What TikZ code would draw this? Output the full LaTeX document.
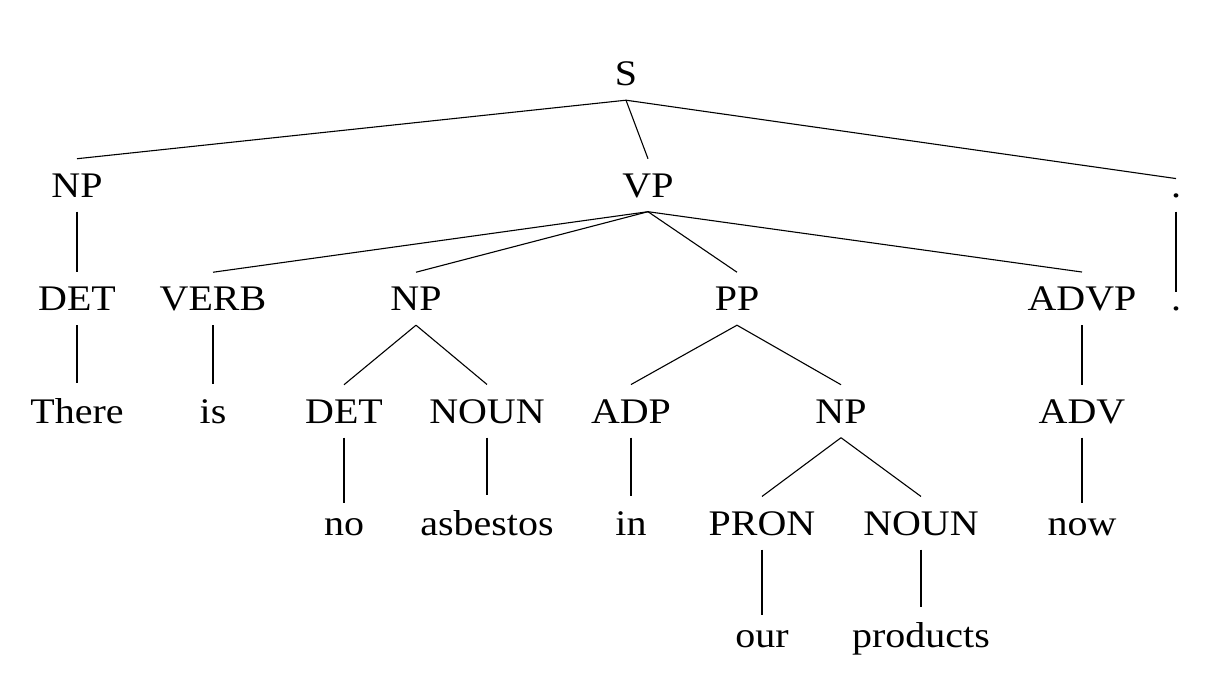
\documentclass[tikz,border=0pt]{standalone}
\usepackage{fontspec}
\setmainfont[FakeStretch=1.11]{Liberation Serif}
\begin{document}
\begin{tikzpicture}[x=1pt,y=-1pt,
  lbl/.style={anchor=base,inner xsep=2pt,inner ysep=14.5pt,text depth=0pt,font=\fontsize{36}{40}\selectfont},
  edge/.style={line width=1.1pt}]
\useasboundingbox (0,0) rectangle (1226,682);
% row 0
\node[lbl] (S) at (626,85.5) {S};
% row 1
\node[lbl] (NP1) at (77,197) {NP};
\node[lbl] (VP) at (648,197) {VP};
\node[lbl] (P1) at (1176,197) {.};
% row 2
\node[lbl] (DET1) at (77,310.5) {DET};
\node[lbl] (VERB) at (213,310.5) {VERB};
\node[lbl] (NP2) at (416,310.5) {NP};
\node[lbl] (PP) at (737,310.5) {PP};
\node[lbl] (ADVP) at (1082,310.5) {ADVP};
\node[lbl] (P2) at (1176,310.5) {.};
% row 3
\node[lbl] (There) at (77,423) {There};
\node[lbl] (is) at (213,423) {is};
\node[lbl] (DET2) at (344,423) {DET};
\node[lbl] (NOUN1) at (487,423) {NOUN};
\node[lbl] (ADP) at (631,423) {ADP};
\node[lbl] (NP3) at (841,423) {NP};
\node[lbl] (ADV) at (1082,423) {ADV};
% row 4
\node[lbl] (no) at (344,535) {no};
\node[lbl] (asbestos) at (487,535) {asbestos};
\node[lbl] (in) at (631,535) {in};
\node[lbl] (PRON) at (762,535) {PRON};
\node[lbl] (NOUN2) at (921,535) {NOUN};
\node[lbl] (now) at (1082,535) {now};
% row 5
\node[lbl] (our) at (762,647) {our};
\node[lbl] (products) at (921,647) {products};
% edges
\foreach \a/\b in {S/NP1,S/VP,S/P1,NP1/DET1,DET1/There,P1/P2,
  VP/VERB,VP/NP2,VP/PP,VP/ADVP,VERB/is,NP2/DET2,NP2/NOUN1,DET2/no,NOUN1/asbestos,
  PP/ADP,PP/NP3,ADP/in,NP3/PRON,NP3/NOUN2,PRON/our,NOUN2/products,ADVP/ADV,ADV/now}
  \draw[edge] (\a.south) -- (\b.north);
\end{tikzpicture}
\end{document}
